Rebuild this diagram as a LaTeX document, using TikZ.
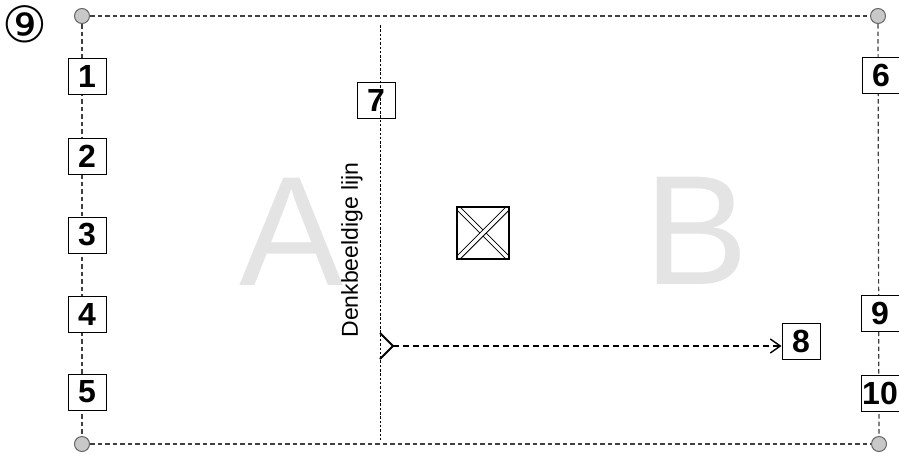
\documentclass[tikz,border=0pt]{standalone}
\usepackage{fontspec}
\setmainfont{Liberation Sans}
\newfontfamily\symfont{DejaVu Sans}
\usetikzlibrary{arrows.meta,calc}
\definecolor{dotgray}{HTML}{C8C8C8}
\definecolor{bigletter}{HTML}{E4E4E4}
\tikzset{
  corner/.style={circle,draw=gray!80!black,fill=dotgray,minimum size=15pt,inner sep=0pt,line width=1pt},
  numbox/.style={draw=black,fill=white,line width=1pt,minimum width=38pt,minimum height=36pt,inner sep=1pt,font=\fontsize{32}{32}\selectfont\bfseries},
  border/.style={draw=black!75,line width=1.2pt,dash pattern=on 4.5pt off 3pt},
  imagline/.style={draw=black,line width=1pt,dash pattern=on 2.5pt off 1.8pt},
  flow/.style={draw=black,line width=1.1pt,dash pattern=on 6pt off 4pt},
  bigtext/.style={text=bigletter,font=\fontsize{156}{156}\selectfont}
}
\begin{document}
\begin{tikzpicture}[x=1pt,y=-1pt]
\useasboundingbox (0,0) rectangle (899,453);
% big letters
\node[bigtext] (A) at (292,232) {A};
\node[bigtext] (B) at (697,231) {B};
% corners
\node[corner] (c1) at (82,16) {};
\node[corner] (c2) at (878,16) {};
\node[corner] (c3) at (82,444) {};
\node[corner] (c4) at (879,444) {};
\draw[border] (c1) -- (c2);
\draw[border] (c3) -- (c4);
\draw[border] (c1) -- (c3);
\draw[border] (c2) -- (c4);
% left boxes
\node[numbox] (b1) at (87,76) {1};
\node[numbox] (b2) at (87,156) {2};
\node[numbox] (b3) at (87,235) {3};
\node[numbox] (b4) at (87,314) {4};
\node[numbox] (b5) at (87,392) {5};
% right boxes
\node[numbox] (b6) at (881,75) {6};
\node[numbox] (b9) at (880,313) {9};
\node[numbox] (b10) at (880,393) {10};
% circled nine
\node[font=\symfont\fontsize{50}{50}\selectfont,inner sep=0pt] (n9) at (25,24) {⑨};
% imaginary line
\node[draw=black,line width=1pt,minimum width=38pt,minimum height=36pt,inner sep=1pt,font=\fontsize{32}{32}\selectfont\bfseries] (b7) at (376,100) {7};
\coordinate (lt) at (380,25);
\coordinate (lb) at (380,441);
\draw[imagline] (lt) -- (lb);
\node[rotate=90,font=\fontsize{23}{23}\selectfont] (lbl) at (352,250) {Denkbeeldige lijn};
% symbol box
\node[draw=none,minimum size=52pt,inner sep=0pt] (xb) at (483,233) {};
\begin{scope}
\clip (xb.south west) rectangle (xb.north east);
\draw[double distance=3.5pt,line width=0.9pt] (xb.north west) -- (xb.south east);
\draw[double distance=3.5pt,line width=0.9pt] (xb.north east) -- (xb.south west);
\end{scope}
\draw[line width=1.5pt] (xb.south west) rectangle (xb.north east);
% arrow
\node[numbox,fill=none] (b8) at (801,341) {8};
\coordinate (s) at (380,346);
\coordinate (st) at (393,346);
\draw[line width=2pt] ($(s)+(0,-13)$) -- (st) -- ($(s)+(0,13)$);
\draw[flow,-{Straight Barb[length=10pt,width=14pt,line width=1.4pt]}] (st) -- (st -| b8.west);
\end{tikzpicture}
\end{document}
